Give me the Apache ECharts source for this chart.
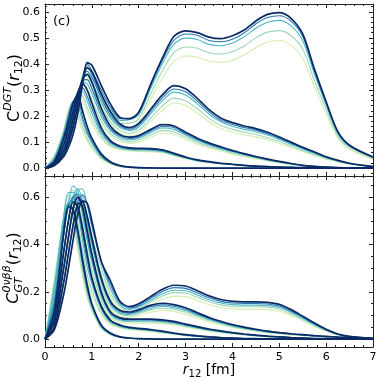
<!DOCTYPE html>
<html><head><meta charset="utf-8">
<script src="https://cdn.jsdelivr.net/npm/echarts@6/dist/echarts.min.js"></script>
<style>html,body{margin:0;padding:0;background:#fff}#c{width:381px;height:381px}</style>
</head><body><div id="c"></div>
<script>
// r12 grid (fm)
const r12 = [0,0.2,0.4,0.5,0.6,0.7,0.8,0.9,1.0,1.2,1.4,1.6,1.8,2.0,2.25,2.5,2.75,3.0,3.25,3.5,3.75,4.0,4.25,4.5,4.75,5.0,5.25,5.5,5.75,6.0,6.25,6.5,7.0];

// tick labels
const xTicks = [0,1,2,3,4,5,6,7];
const topTicks = [0,0.1,0.2,0.3,0.4,0.5,0.6];
const topMinor = [-0.02,0.02,0.04,0.06,0.08,0.12,0.14,0.16,0.18,0.22,0.24,0.26,0.28,0.32,0.34,0.36,0.38,0.42,0.44,0.46,0.48,0.52,0.54,0.56,0.58,0.62];
const botTicks = [0,0.2,0.4,0.6];
const botMinor = [0.05,0.1,0.15,0.25,0.3,0.35,0.45,0.5,0.55,0.65];

// ---- top panel: C^DGT(r12); families A..E, shades 0 (light) .. 4 (dark)
const topA0 = [0,.05,.15,.225,.252,.198,.144,.104,.075,.036,.016,.006,.003,.001,0,0,0,0,0,0,0,0,0,0,0,0,0,0,0,0,0,0,0];
const topA1 = [0,.045,.145,.219,.255,.216,.16,.115,.084,.04,.018,.007,.003,.001,0,0,0,0,0,0,0,0,0,0,0,0,0,0,0,0,0,0,0];
const topA2 = [0,.04,.135,.206,.254,.24,.182,.132,.096,.045,.02,.008,.004,.002,.001,0,0,0,0,0,0,0,0,0,0,0,0,0,0,0,0,0,0];
const topA3 = [0,.032,.128,.196,.257,.26,.196,.142,.104,.047,.021,.009,.004,.002,.001,0,0,0,0,0,0,0,0,0,0,0,0,0,0,0,0,0,0];
const topA4 = [0,.025,.115,.18,.25,.28,.22,.16,.115,.055,.024,.01,.004,.002,.001,0,0,0,0,0,0,0,0,0,0,0,0,0,0,0,0,0,0];

const topB0 = [0,.031,.129,.189,.249,.28,.258,.215,.172,.112,.082,.071,.066,.064,.063,.059,.048,.036,.027,.021,.016,.013,.009,.007,.005,.003,.003,.002,.001,0,0,0,0];
const topB1 = [0,.03,.124,.185,.248,.286,.275,.234,.191,.122,.087,.075,.069,.067,.066,.062,.05,.038,.028,.022,.017,.013,.01,.007,.005,.004,.003,.002,.001,0,0,0,0];
const topB2 = [0,.028,.113,.174,.24,.29,.294,.259,.212,.133,.094,.078,.072,.07,.069,.064,.052,.04,.029,.023,.017,.014,.01,.007,.006,.004,.003,.002,.001,0,0,0,0];
const topB3 = [0,.026,.105,.166,.234,.291,.308,.276,.229,.143,.099,.082,.075,.073,.072,.067,.055,.041,.031,.024,.018,.014,.011,.008,.006,.004,.003,.002,.001,0,0,0,0];
const topB4 = [0,.022,.09,.15,.22,.29,.325,.30,.25,.155,.105,.085,.078,.076,.075,.07,.057,.043,.032,.025,.019,.015,.011,.008,.006,.004,.003,.002,.001,0,0,0,0];

const topC0 = [0,.025,.103,.163,.232,.292,.31,.284,.241,.168,.124,.102,.095,.1,.118,.134,.13,.11,.092,.078,.066,.054,.045,.036,.028,.021,.014,.009,.006,.003,.002,.001,0];
const topC1 = [0,.024,.099,.158,.229,.293,.32,.302,.261,.182,.132,.11,.102,.108,.127,.144,.139,.119,.099,.083,.071,.058,.048,.039,.03,.022,.015,.009,.006,.003,.002,.001,0];
const topC2 = [0,.022,.089,.146,.216,.287,.329,.324,.287,.199,.143,.118,.109,.115,.136,.154,.149,.127,.106,.089,.075,.063,.052,.041,.032,.024,.017,.01,.006,.004,.002,.001,0];
const topC3 = [0,.02,.082,.137,.208,.282,.336,.34,.306,.213,.15,.123,.114,.12,.142,.16,.156,.132,.11,.093,.079,.065,.054,.043,.034,.025,.017,.011,.007,.004,.002,.001,0];
const topC4 = [0,.016,.07,.12,.19,.27,.34,.36,.33,.23,.16,.128,.119,.125,.148,.167,.162,.138,.115,.097,.082,.068,.056,.045,.035,.026,.018,.011,.007,.004,.002,.001,0];

const topD0 = [0,.023,.086,.138,.206,.284,.33,.325,.283,.217,.165,.134,.123,.136,.178,.221,.25,.241,.212,.178,.152,.138,.128,.12,.109,.095,.079,.063,.049,.035,.024,.015,.005];
const topD1 = [0,.022,.081,.133,.202,.281,.337,.342,.305,.234,.177,.145,.133,.146,.191,.238,.269,.259,.228,.191,.164,.149,.138,.129,.117,.102,.085,.068,.053,.037,.026,.016,.005];
const topD2 = [0,.019,.072,.122,.188,.268,.34,.36,.33,.254,.192,.156,.144,.158,.207,.258,.292,.281,.247,.207,.178,.161,.149,.14,.127,.11,.092,.074,.057,.04,.028,.017,.006];
const topD3 = [0,.017,.066,.114,.178,.259,.34,.372,.348,.27,.202,.163,.15,.165,.216,.269,.304,.293,.257,.216,.185,.168,.156,.146,.132,.115,.096,.077,.06,.042,.029,.018,.006];
const topD4 = [0,.012,.055,.10,.16,.24,.335,.385,.37,.285,.215,.17,.156,.172,.225,.28,.317,.305,.268,.225,.193,.175,.162,.152,.138,.12,.10,.08,.062,.044,.03,.019,.006];

const topE0 = [0,.022,.069,.112,.181,.267,.352,.352,.305,.243,.187,.162,.156,.176,.262,.344,.41,.431,.426,.41,.406,.414,.435,.463,.484,.49,.472,.422,.312,.209,.115,.072,.035];
const topE1 = [0,.02,.066,.108,.175,.261,.355,.372,.328,.26,.203,.172,.173,.19,.283,.372,.443,.465,.46,.443,.438,.447,.469,.50,.522,.528,.509,.456,.336,.226,.124,.078,.038];
const topE2 = [0,.018,.059,.10,.162,.247,.35,.392,.358,.283,.22,.183,.186,.204,.304,.399,.475,.499,.494,.475,.47,.48,.504,.537,.56,.567,.546,.489,.361,.242,.133,.084,.041];
const topE3 = [0,.015,.054,.093,.151,.235,.34,.40,.375,.30,.232,.19,.189,.211,.314,.412,.49,.515,.51,.49,.485,.495,.519,.554,.578,.585,.564,.505,.372,.25,.137,.086,.042];
const topE4 = [0,.01,.045,.08,.13,.21,.32,.405,.395,.318,.245,.195,.19,.215,.32,.42,.505,.527,.52,.503,.497,.508,.53,.565,.59,.597,.575,.515,.38,.255,.14,.088,.043];

// ---- bottom panel: C_GT^{0vbb}(r12)
const botA0 = [0,.213,.50,.537,.481,.376,.266,.177,.119,.047,.019,.008,.004,.002,.001,0,0,0,0,0,0,0,0,0,0,0,0,0,0,0,0,0,0];
const botA1 = [0,.203,.505,.555,.505,.40,.285,.19,.128,.05,.02,.008,.004,.002,.001,0,0,0,0,0,0,0,0,0,0,0,0,0,0,0,0,0,0];
const botA2 = [0,.193,.514,.578,.535,.428,.308,.206,.137,.052,.021,.009,.004,.002,.001,0,0,0,0,0,0,0,0,0,0,0,0,0,0,0,0,0,0];
const botA3 = [0,.153,.481,.569,.543,.445,.324,.218,.144,.056,.023,.009,.005,.002,.001,0,0,0,0,0,0,0,0,0,0,0,0,0,0,0,0,0,0];
const botA4 = [0,.12,.45,.56,.55,.46,.34,.23,.15,.06,.025,.01,.005,.002,.001,0,0,0,0,0,0,0,0,0,0,0,0,0,0,0,0,0,0];

const botB0 = [0,.258,.516,.576,.542,.448,.34,.248,.188,.104,.061,.048,.04,.037,.033,.027,.021,.015,.011,.008,.006,.004,.002,.002,.001,.001,0,0,0,0,0,0,0];
const botB1 = [0,.242,.525,.609,.588,.494,.378,.273,.205,.113,.067,.052,.043,.04,.035,.029,.022,.016,.012,.009,.006,.004,.003,.002,.001,.001,0,0,0,0,0,0,0];
const botB2 = [0,.222,.521,.62,.62,.537,.42,.308,.233,.128,.072,.055,.046,.042,.037,.031,.024,.017,.013,.009,.006,.005,.003,.002,.001,.001,0,0,0,0,0,0,0];
const botB3 = [0,.153,.443,.559,.601,.55,.447,.336,.248,.134,.076,.057,.048,.044,.039,.032,.025,.018,.013,.01,.007,.005,.003,.002,.001,.001,0,0,0,0,0,0,0];
const botB4 = [0,.09,.37,.50,.58,.56,.47,.36,.26,.14,.08,.06,.05,.046,.041,.034,.026,.019,.014,.01,.007,.005,.003,.002,.001,.001,0,0,0,0,0,0,0];

const botC0 = [0,.208,.454,.56,.592,.54,.44,.344,.264,.149,.09,.072,.068,.068,.068,.066,.06,.051,.042,.034,.028,.022,.018,.014,.01,.008,.006,.004,.002,.002,.001,.001,0];
const botC1 = [0,.194,.452,.578,.63,.588,.483,.378,.294,.166,.099,.078,.074,.074,.074,.071,.065,.055,.046,.037,.03,.024,.019,.015,.011,.009,.006,.004,.003,.002,.001,.001,0];
const botC2 = [0,.178,.444,.579,.649,.625,.528,.418,.326,.183,.106,.082,.077,.077,.077,.075,.068,.058,.048,.039,.032,.025,.02,.015,.012,.009,.006,.005,.003,.002,.001,.001,0];
const botC3 = [0,.122,.37,.502,.599,.613,.546,.441,.344,.192,.11,.086,.081,.081,.081,.078,.072,.061,.051,.041,.033,.027,.021,.016,.012,.01,.007,.005,.003,.002,.001,.001,0];
const botC4 = [0,.07,.30,.43,.55,.60,.56,.46,.36,.20,.115,.09,.085,.085,.085,.082,.075,.064,.053,.043,.035,.028,.022,.017,.013,.01,.007,.005,.003,.002,.001,.001,0];

const botD0 = [0,.164,.384,.498,.572,.568,.502,.413,.328,.20,.124,.098,.092,.1,.114,.122,.117,.106,.09,.074,.061,.05,.041,.034,.027,.022,.018,.015,.012,.01,.007,.006,.002];
const botD1 = [0,.152,.378,.504,.599,.609,.546,.452,.362,.22,.135,.106,.099,.108,.124,.131,.126,.115,.097,.08,.066,.054,.044,.036,.029,.024,.02,.016,.013,.01,.008,.006,.003];
const botD2 = [0,.139,.37,.502,.607,.636,.585,.493,.398,.242,.146,.111,.105,.114,.13,.138,.133,.121,.102,.084,.069,.056,.046,.038,.031,.025,.021,.017,.014,.011,.008,.006,.003];
const botD3 = [0,.092,.302,.428,.542,.603,.584,.508,.416,.252,.152,.117,.11,.119,.137,.145,.139,.127,.107,.088,.073,.059,.049,.04,.032,.027,.022,.018,.014,.011,.009,.007,.003];
const botD4 = [0,.05,.24,.36,.48,.57,.58,.52,.43,.26,.16,.122,.115,.125,.143,.152,.146,.133,.112,.092,.076,.062,.051,.042,.034,.028,.023,.019,.015,.012,.009,.007,.003];

const botE0 = [0,.13,.324,.442,.541,.583,.56,.483,.398,.279,.175,.128,.11,.12,.144,.168,.182,.18,.164,.146,.134,.128,.126,.126,.125,.118,.10,.078,.054,.034,.018,.01,.003];
const botE1 = [0,.121,.315,.441,.557,.614,.604,.525,.436,.302,.191,.138,.119,.13,.156,.182,.197,.195,.177,.158,.145,.138,.137,.137,.135,.127,.108,.084,.059,.036,.019,.01,.003];
const botE2 = [0,.11,.306,.436,.559,.631,.635,.567,.475,.326,.212,.146,.126,.137,.164,.191,.207,.205,.187,.167,.153,.146,.144,.144,.142,.134,.114,.088,.062,.038,.02,.011,.004];
const botE3 = [0,.074,.246,.365,.487,.58,.61,.572,.489,.329,.228,.153,.132,.143,.172,.201,.218,.215,.196,.175,.16,.153,.151,.151,.149,.14,.119,.093,.065,.04,.021,.011,.004];
const botE4 = [0,.04,.19,.30,.42,.53,.585,.575,.50,.33,.245,.16,.138,.15,.18,.21,.228,.225,.205,.183,.168,.16,.158,.158,.156,.147,.125,.097,.068,.042,.022,.012,.004];

const shadeColors = ['#d3eeb0','#9ed6b8','#4cb7c3','#2276b4','#0b2a64'];
const shadeWidths = [1.1,1.1,1.1,1.1,1.7];

const topSets = [[topA0,topB0,topC0,topD0,topE0],[topA1,topB1,topC1,topD1,topE1],[topA2,topB2,topC2,topD2,topE2],[topA3,topB3,topC3,topD3,topE3],[topA4,topB4,topC4,topD4,topE4]];
const botSets = [[botA0,botB0,botC0,botD0,botE0],[botA1,botB1,botC1,botD1,botE1],[botA2,botB2,botC2,botD2,botE2],[botA3,botB3,botC3,botD3,botE3],[botA4,botB4,botC4,botD4,botE4]];

const FONT = "'DejaVu Sans', sans-serif";
const series = [];
function addSets(sets, xi, yi) {
  sets.forEach((group, s) => {
    group.forEach(vals => {
      series.push({
        type: 'line', xAxisIndex: xi, yAxisIndex: yi, smooth: 0.3,
        showSymbol: false, symbol: 'none', silent: true, animation: false,
        lineStyle: { color: shadeColors[s], width: shadeWidths[s] },
        data: r12.map((x, i) => [x, vals[i]])
      });
    });
  });
}
addSets(topSets, 0, 0);
addSets(botSets, 2, 4);

const lineC = '#222';
function xAx(grid, pos, labels) {
  return {
    type: 'value', gridIndex: grid, position: pos, min: 0, max: 7, interval: 1,
    axisLine: { show: true, onZero: false, lineStyle: { color: lineC, width: 1 } },
    axisTick: { show: true, inside: true, length: 4, lineStyle: { color: lineC } },
    minorTick: { show: true, splitNumber: 5, length: 2, lineStyle: { color: lineC } },
    axisLabel: { show: labels, color: '#000', fontSize: 11, fontFamily: FONT, margin: 5,
      showMinLabel: true, showMaxLabel: true, formatter: v => String(v) },
    splitLine: { show: false }, minorSplitLine: { show: false }
  };
}
function yAx(grid, pos, min, max, ticks, len, labels, line) {
  return {
    type: 'value', gridIndex: grid, position: pos, min: min, max: max,
    axisLine: { show: line, onZero: false, lineStyle: { color: lineC, width: 1 } },
    axisTick: { show: true, inside: true, length: len, customValues: ticks, lineStyle: { color: lineC } },
    axisLabel: { show: labels, customValues: ticks, color: '#000', fontSize: 11, fontFamily: FONT, margin: 5,
      formatter: v => Number(v).toFixed(1) },
    splitLine: { show: false }
  };
}

// text helpers (rotated math-like labels)
const mctx = document.createElement('canvas').getContext('2d');
function w(t, size, ital) { mctx.font = (ital ? 'italic ' : '') + size + 'px DejaVu Sans'; return mctx.measureText(t).width; }
function piece(t, x, y, size, ital) {
  return { type: 'text', x: x, y: y, style: { text: t, fontSize: size, fontFamily: FONT,
    fontStyle: ital ? 'italic' : 'normal', fill: '#000', align: 'left', verticalAlign: 'middle' } };
}
function buildLabel(parts) {
  let total = 0;
  const widths = parts.map(p => p.stack ? Math.max(...p.stack.map(q => w(q.t, q.size, q.ital))) : w(p.t, p.size, p.ital));
  widths.forEach(v => total += v);
  let x = -total / 2; const kids = [];
  parts.forEach((p, i) => {
    if (p.stack) p.stack.forEach(q => kids.push(piece(q.t, x, q.dy, q.size, q.ital)));
    else kids.push(piece(p.t, x, p.dy, p.size, p.ital));
    x += widths[i];
  });
  return kids;
}

const topLabel = buildLabel([
  { t: 'C', size: 16, ital: false, dy: 0 },
  { t: 'DGT', size: 11, ital: true, dy: -7 },
  { t: '(', size: 16, ital: false, dy: 0 },
  { t: 'r', size: 16, ital: true, dy: 0 },
  { t: '12', size: 11, ital: false, dy: 4 },
  { t: ')', size: 16, ital: false, dy: 0 }
]);
const botLabel = buildLabel([
  { t: 'C', size: 16, ital: true, dy: 0 },
  { stack: [ { t: '0νββ', size: 11, ital: true, dy: -7 }, { t: 'GT', size: 11, ital: true, dy: 5 } ] },
  { t: '(', size: 16, ital: false, dy: 0 },
  { t: 'r', size: 16, ital: true, dy: 0 },
  { t: '12', size: 11, ital: false, dy: 4 },
  { t: ')', size: 16, ital: false, dy: 0 }
]);
const xLabel = buildLabel([
  { t: 'r', size: 14, ital: true, dy: 0 },
  { t: '12', size: 10, ital: false, dy: 4 },
  { t: ' [fm]', size: 14, ital: false, dy: 0 }
]);

const chart = echarts.init(document.getElementById('c'), null, { renderer: 'canvas' });
chart.setOption({
  animation: false,
  backgroundColor: '#fff',
  grid: [
    { left: 45, right: 8, top: 4, height: 172 },
    { left: 45, right: 8, top: 176, height: 171 }
  ],
  xAxis: [ xAx(0, 'bottom', false), xAx(0, 'top', false), xAx(1, 'bottom', true), xAx(1, 'top', false) ],
  yAxis: [
    yAx(0, 'left', -0.03, 0.63, topTicks, 4, true, true),
    yAx(0, 'left', -0.03, 0.63, topMinor, 2, false, false),
    yAx(0, 'right', -0.03, 0.63, topTicks, 4, false, true),
    yAx(0, 'right', -0.03, 0.63, topMinor, 2, false, false),
    yAx(1, 'left', -0.033, 0.69, botTicks, 4, true, true),
    yAx(1, 'left', -0.033, 0.69, botMinor, 2, false, false),
    yAx(1, 'right', -0.033, 0.69, botTicks, 4, false, true),
    yAx(1, 'right', -0.033, 0.69, botMinor, 2, false, false)
  ],
  series: series,
  graphic: [
    { type: 'text', left: 53, top: 15, style: { text: '(c)', fontSize: 13, fontFamily: FONT, fill: '#000' } },
    { type: 'group', x: 15, y: 88, rotation: Math.PI / 2, children: topLabel },
    { type: 'group', x: 14, y: 268, rotation: Math.PI / 2, children: botLabel },
    { type: 'group', x: 209, y: 370, children: xLabel }
  ]
});
</script>
</body></html>
